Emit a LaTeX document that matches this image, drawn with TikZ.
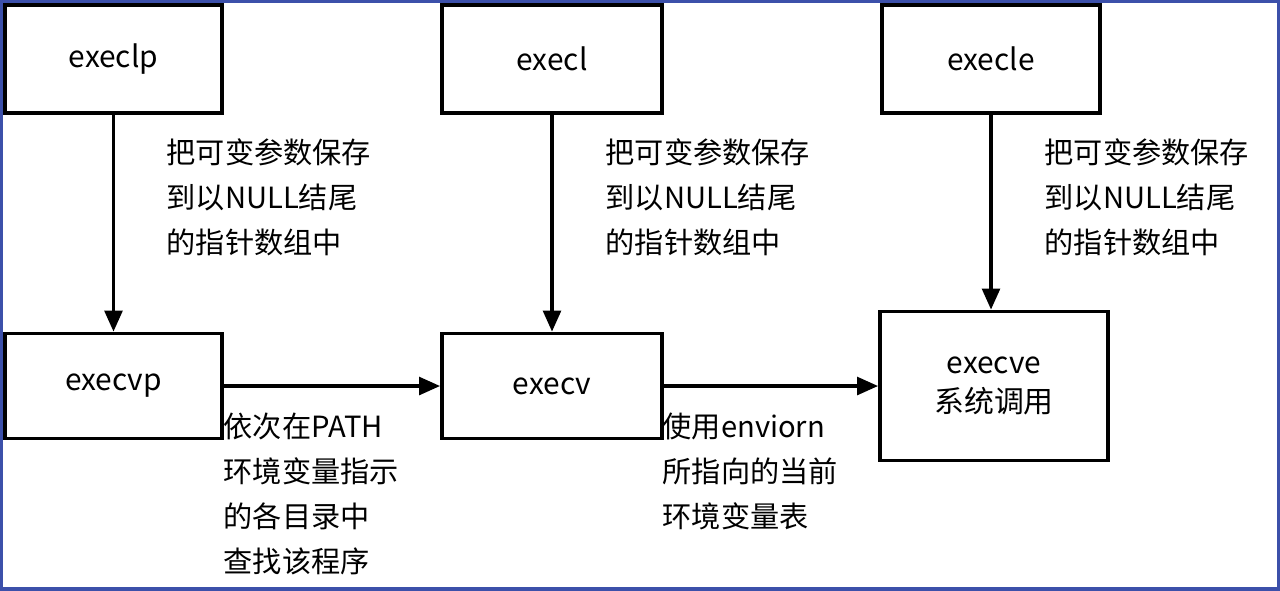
\documentclass[tikz,border=0pt]{standalone}
\usepackage{fontspec}
\setmainfont{Noto Sans CJK SC}
\usetikzlibrary{arrows.meta}
\begin{document}
\begin{tikzpicture}[x=0.01cm,y=-0.01cm,
  box/.style={draw,line width=1pt,inner sep=0pt,font=\fontsize{8.5}{11}\selectfont},
  lab/.style={anchor=north west,inner sep=0pt,align=left,font=\fontsize{8.3}{12.8}\selectfont},
  arr/.style={line width=1.1pt,-{Triangle[length=6pt,width=5pt]}}]
\useasboundingbox (0,0) rectangle (1280,590);
\fill[white] (0,0) rectangle (1280,590);
\draw[line width=1.2pt,draw={rgb,255:red,60;green,80;blue,170}] (1,1) rectangle (1279,589);
\node[box,minimum width=2.17cm,minimum height=1.08cm] (execlp) at (113.5,59) {execlp};
\node[box,minimum width=2.2cm,minimum height=1.08cm] (execl) at (552,59) {execl};
\node[box,minimum width=2.18cm,minimum height=1.08cm] (execle) at (991,59) {execle};
\node[box,minimum width=2.17cm,minimum height=1.05cm] (execvp) at (113.5,386) {execvp};
\node[box,minimum width=2.2cm,minimum height=1.05cm] (execv) at (552,386) {execv};
\node[box,minimum width=2.28cm,minimum height=1.49cm,align=center] (execve) at (994,386) {execve\\系统调用};
\draw[arr] (execlp.south) -- (execvp.north);
\draw[arr] (execl.south) -- (execv.north);
\draw[arr] (execle.south) -- (execle.south |- execve.north);
\draw[arr] (execvp.east) -- (execv.west);
\draw[arr] (execv.east) -- (execve.west);
\node[lab] (t1) at (166,138) {把可变参数保存\\到以NULL结尾\\的指针数组中};
\node[lab] (t2) at (605,138) {把可变参数保存\\到以NULL结尾\\的指针数组中};
\node[lab] (t3) at (1044,138) {把可变参数保存\\到以NULL结尾\\的指针数组中};
\node[lab] (t4) at (223,412) {依次在PATH\\环境变量指示\\的各目录中\\查找该程序};
\node[lab] (t5) at (662,412) {使用enviorn\\所指向的当前\\环境变量表};
\end{tikzpicture}
\end{document}
